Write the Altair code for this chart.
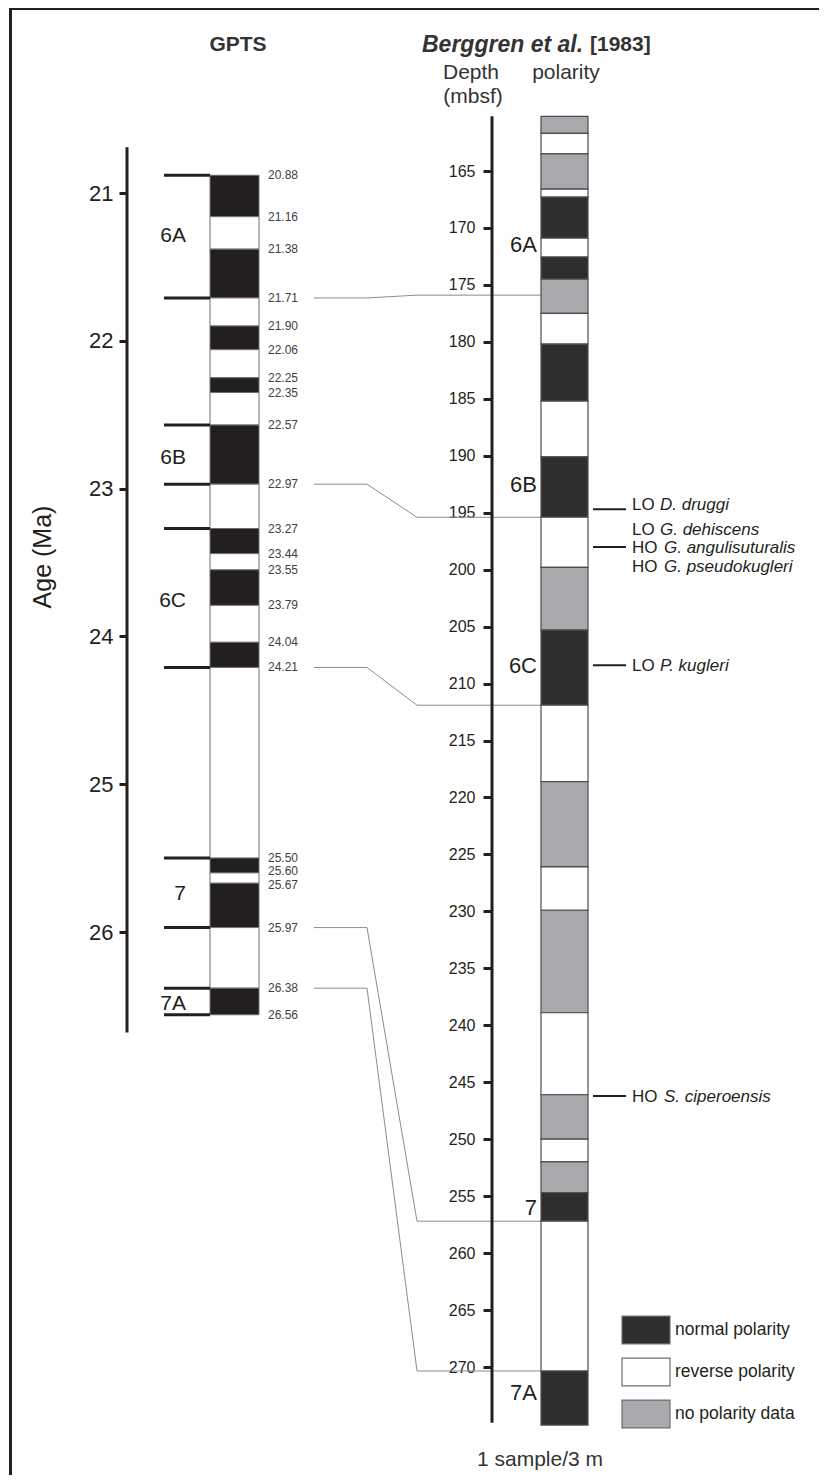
import altair as alt
import pandas as pd

# ------------------------------------------------------------------ data
GPTS_BOUNDS = [20.88, 21.16, 21.38, 21.71, 21.90, 22.06, 22.25, 22.35, 22.57, 22.97,
               23.27, 23.44, 23.55, 23.79, 24.04, 24.21, 25.50, 25.60, 25.67, 25.97,
               26.38, 26.56]
GPTS_POLARITY = ["N", "R", "N", "R", "N", "R", "N", "R", "N", "R", "N",
                 "R", "N", "R", "N", "R", "N", "R", "N", "R", "N"]
CHRON_BOUNDS = [20.88, 21.71, 22.57, 22.97, 23.27, 24.21, 25.50, 25.97, 26.38, 26.56]
CHRON_NAMES = ["6A", "6B", "6C", "7", "7A"]
GPTS_CHRON_AGE = [21.29, 22.79, 23.76, 25.74, 26.49]
AGE_TICKS = [21, 22, 23, 24, 25, 26]
AGE_AXIS_EXTENT = [20.69, 26.68]

DEPTH_TOP = [160.2, 161.7, 163.5, 166.6, 167.3, 170.9, 172.55, 174.5, 177.5, 180.2,
             185.2, 190.1, 195.4, 199.8, 205.3, 211.9, 218.6, 226.1, 229.9, 238.9,
             246.1, 250.0, 252.0, 254.7, 257.2, 270.35]
DEPTH_BASE = [161.7, 163.5, 166.6, 167.3, 170.9, 172.55, 174.5, 177.5, 180.2, 185.2,
              190.1, 195.4, 199.8, 205.3, 211.9, 218.6, 226.1, 229.9, 238.9, 246.1,
              250.0, 252.0, 254.7, 257.2, 270.35, 275.1]
DEPTH_POLARITY = ["no polarity data", "reverse polarity", "no polarity data", "reverse polarity",
                  "normal  polarity", "reverse polarity", "normal  polarity", "no polarity data",
                  "reverse polarity", "normal  polarity", "reverse polarity", "normal  polarity",
                  "reverse polarity", "no polarity data", "normal  polarity", "reverse polarity",
                  "no polarity data", "reverse polarity", "no polarity data", "reverse polarity",
                  "no polarity data", "reverse polarity", "no polarity data", "normal  polarity",
                  "reverse polarity", "normal  polarity"]
LEGEND_ORDER = ["normal  polarity", "reverse polarity", "no polarity data"]
DEPTH_TICKS = list(range(165, 271, 5))
DEPTH_AXIS_EXTENT = [160.2, 274.9]
DEPTH_CHRON_DEPTH = [171.5, 192.6, 208.5, 256.0, 272.3]

TIE_AGE = [21.71, 22.97, 24.21, 25.97, 26.38]
TIE_DEPTH = [175.9, 195.4, 211.9, 257.2, 270.35]

EVENT_LINE_DEPTH = [194.7, 198.0, 208.4, 246.2]
EVENT_PREFIX = ["LO", "LO", "HO", "HO", "LO", "HO"]
EVENT_TAXON = ["D. druggi", "G. dehiscens", "G. angulisuturalis", "G. pseudokugleri",
               "P. kugleri", "S. ciperoensis"]
EVENT_LABEL_DEPTH = [194.3, 196.5, 198.1, 199.8, 208.5, 246.3]

# ------------------------------------------------------------------ layout
FONT = "Liberation Sans"
INK = "#231f20"
OX, OY = 16, 16             # page position of the plot origin (8 margin + 8 padding)
W, H = 795, 1451
CROWDED_UP, CROWDED_DOWN = 25.60, 25.67   # age labels nudged apart (pixels via dy)


def X(px):
    return px - OX


def Y(py):
    return py - OY


# linear geometry of the two vertical scales (page y of two reference ticks)
AGE_REF = (21, 193, 26, 932)
DEP_REF = (165, 171, 270, 1367)


def domain_for(ref):
    v0, p0, v1, p1 = ref
    k = (v1 - v0) / (p1 - p0)
    return [v0 + (OY - p0) * k, v0 + (OY + H - p0) * k]


A0, A1 = domain_for(AGE_REF)
D0, D1 = domain_for(DEP_REF)
sA = alt.Scale(domain=[A0, A1], reverse=True, nice=False, zero=False)
sD = alt.Scale(domain=[D0, D1], reverse=True, nice=False, zero=False)

# ------------------------------------------------------------------ tables
gpts = pd.DataFrame({"top": GPTS_BOUNDS[:-1], "base": GPTS_BOUNDS[1:], "pol": GPTS_POLARITY})
bounds = pd.DataFrame({"age": GPTS_BOUNDS})
chron_b = pd.DataFrame({"age": CHRON_BOUNDS})
gchron = pd.DataFrame({"age": GPTS_CHRON_AGE, "name": CHRON_NAMES})
age_axis = pd.DataFrame({"lo": [AGE_AXIS_EXTENT[0]], "hi": [AGE_AXIS_EXTENT[1]]})
depth = pd.DataFrame({"top": DEPTH_TOP, "base": DEPTH_BASE, "pol": DEPTH_POLARITY})
dep_axis = pd.DataFrame({"lo": [DEPTH_AXIS_EXTENT[0]], "hi": [DEPTH_AXIS_EXTENT[1]]})
dchron = pd.DataFrame({"depth": DEPTH_CHRON_DEPTH, "name": CHRON_NAMES})
ties = pd.DataFrame({"age": TIE_AGE, "depth": TIE_DEPTH})
ev_lines = pd.DataFrame({"depth": EVENT_LINE_DEPTH})
ev_text = pd.DataFrame({"depth": EVENT_LABEL_DEPTH, "prefix": EVENT_PREFIX, "taxon": EVENT_TAXON})

deq_expr = f"{A0} + (datum.depth - {D0}) * ({A1 - A0}) / ({D1 - D0})"

layers = []

# frame (top and left edge)
frame = pd.DataFrame({"k": [0]})
layers.append(alt.Chart(frame).mark_rule(color=INK, strokeWidth=3).encode(
    x=alt.value(X(10.5)), y=alt.value(Y(6)), y2=alt.value(Y(1490))))
layers.append(alt.Chart(frame).mark_rule(color=INK, strokeWidth=3).encode(
    x=alt.value(X(9)), x2=alt.value(X(830)), y=alt.value(Y(8.5))))

# GPTS column
layers.append(alt.Chart(gpts).mark_rect(stroke="#6d6e70", strokeWidth=1).encode(
    y=alt.Y("top:Q", scale=sA, axis=None), y2="base:Q",
    x=alt.value(X(210)), x2=alt.value(X(259)),
    fill=alt.condition(alt.datum.pol == "N", alt.value(INK), alt.value("#ffffff"))))
layers.append(alt.Chart(chron_b).mark_rule(color=INK, strokeWidth=3).encode(
    y=alt.Y("age:Q", scale=sA, axis=None), x=alt.value(X(164)), x2=alt.value(X(210))))


def age_labels(dy, cond):
    return alt.Chart(bounds).transform_filter(cond).mark_text(
        align="left", baseline="middle", fontSize=12, font=FONT, color="#414042", dy=dy
    ).encode(y=alt.Y("age:Q", scale=sA, axis=None), x=alt.value(X(268)),
             text=alt.Text("age:Q", format=".2f"))


layers.append(age_labels(0, f"abs(datum.age - {CROWDED_UP}) > 0.001 && abs(datum.age - {CROWDED_DOWN}) > 0.001"))
layers.append(age_labels(-1.5, f"abs(datum.age - {CROWDED_UP}) < 0.001"))
layers.append(age_labels(1.5, f"abs(datum.age - {CROWDED_DOWN}) < 0.001"))

layers.append(alt.Chart(gchron).mark_text(align="right", baseline="middle", fontSize=21,
                                          font=FONT, color=INK).encode(
    y=alt.Y("age:Q", scale=sA, axis=None), x=alt.value(X(186)), text="name:N"))
layers.append(alt.Chart(age_axis).mark_rule(color=INK, strokeWidth=3).encode(
    y=alt.Y("lo:Q", scale=sA,
            axis=alt.Axis(orient="left", offset=-X(127), values=AGE_TICKS, format="d",
                          domain=False, grid=False, tickSize=8, tickWidth=3, tickColor=INK,
                          labelFontSize=22, labelFont=FONT, labelColor=INK, labelPadding=6,
                          title=None)),
    y2="hi:Q", x=alt.value(X(127))))

# tie lines
layers.append(alt.Chart(ties).mark_rule(color="#8a8c8e", strokeWidth=1).encode(
    y=alt.Y("age:Q", scale=sA, axis=None), x=alt.value(X(314)), x2=alt.value(X(367))))
layers.append(alt.Chart(ties).transform_calculate(deq=deq_expr).mark_rule(
    color="#8a8c8e", strokeWidth=1).encode(
    y=alt.Y("age:Q", scale=sA, axis=None), y2="deq:Q",
    x=alt.value(X(367)), x2=alt.value(X(417))))
layers.append(alt.Chart(ties).mark_rule(color="#8a8c8e", strokeWidth=1).encode(
    y=alt.Y("depth:Q", scale=sD, axis=None), x=alt.value(X(417)), x2=alt.value(X(541))))

# depth column
layers.append(alt.Chart(depth).mark_rect(stroke="#4d4d4d", strokeWidth=1.2).encode(
    y=alt.Y("top:Q", scale=sD, axis=None), y2="base:Q",
    x=alt.value(X(541)), x2=alt.value(X(588)),
    fill=alt.Fill("pol:N", scale=alt.Scale(domain=LEGEND_ORDER,
                                           range=["#2e2e2e", "#ffffff", "#a7a9ac"]),
                  legend=alt.Legend(title=None, orient="none",
                                    legendX=X(621), legendY=Y(1305)))))
layers.append(alt.Chart(dep_axis).mark_rule(color=INK, strokeWidth=3).encode(
    y=alt.Y("lo:Q", scale=sD,
            axis=alt.Axis(orient="left", offset=-X(492), values=DEPTH_TICKS, format="d",
                          domain=False, grid=False, tickSize=9, tickWidth=3, tickColor=INK,
                          labelFontSize=16, labelFont=FONT, labelColor=INK, labelPadding=8,
                          title=None)),
    y2="hi:Q", x=alt.value(X(492))))
layers.append(alt.Chart(dchron).mark_text(align="right", baseline="middle", fontSize=22,
                                          font=FONT, color=INK).encode(
    y=alt.Y("depth:Q", scale=sD, axis=None), x=alt.value(X(537)), text="name:N"))

# biostratigraphic events
layers.append(alt.Chart(ev_lines).mark_rule(color=INK, strokeWidth=2).encode(
    y=alt.Y("depth:Q", scale=sD, axis=None), x=alt.value(X(593)), x2=alt.value(X(626))))
layers.append(alt.Chart(ev_text).mark_text(align="left", baseline="middle", fontSize=17,
                                           font=FONT, color=INK).encode(
    y=alt.Y("depth:Q", scale=sD, axis=None), x=alt.value(X(632)), text="prefix:N"))
layers.append(alt.Chart(ev_text).transform_calculate(
    sx=f"datum.prefix == 'HO' ? {X(664)} : {X(660)}").mark_text(
    align="left", baseline="middle", fontSize=17, font=FONT, fontStyle="italic",
    color=INK).encode(
    y=alt.Y("depth:Q", scale=sD, axis=None),
    x=alt.X("sx:Q", scale=alt.Scale(domain=[0, W], range=[0, W], nice=False, zero=False), axis=None),
    text="taxon:N"))

# titles and labels


def txt(s, px, py, size, **kw):
    return alt.Chart(pd.DataFrame({"t": [s]})).mark_text(
        font=FONT, fontSize=size, color=kw.pop("color", INK), baseline="middle",
        align=kw.pop("align", "center"), **kw).encode(
        x=alt.value(X(px)), y=alt.value(Y(py)), text="t:N")


layers.append(txt("GPTS", 238, 45, 21, fontWeight="bold", color="#333333"))
layers.append(txt("Berggren et al.", 422, 45, 23, align="left", fontWeight="bold",
                  fontStyle="italic", color="#333333"))
layers.append(txt("[1983]", 590, 45, 21, align="left", fontWeight="bold", color="#333333"))
layers.append(txt("Depth", 471, 73, 21, color="#333333"))
layers.append(txt("polarity", 566, 73, 21, color="#333333"))
layers.append(txt("(mbsf)", 473, 97, 21, color="#333333"))
layers.append(txt("Age (Ma)", 43, 557, 25, angle=270))
layers.append(txt("1 sample/3 m", 540, 1460, 21, color="#333333"))

chart = alt.layer(*layers).resolve_scale(y="independent", x="independent").properties(
    width=W, height=H, padding=8, autosize="none"
).configure_view(stroke=None).configure_legend(
    padding=0, symbolType="M-1,-0.58H1V0.58H-1Z", symbolSize=2304,
    symbolStrokeColor="#6d6e70", symbolStrokeWidth=1.2,
    labelFont=FONT, labelFontSize=17.5, labelColor=INK, labelOffset=4, rowPadding=-1
)

chart.save("out.html", embed_options={"renderer": "svg", "actions": False})
